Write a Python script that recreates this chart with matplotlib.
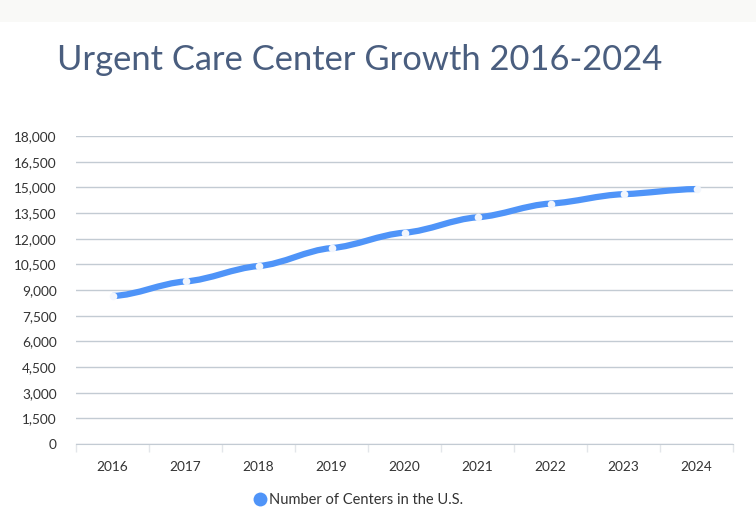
import matplotlib
matplotlib.use("Agg")
from matplotlib import pyplot as plt
from matplotlib.path import Path
from matplotlib.patches import PathPatch, Rectangle
from matplotlib.lines import Line2D

years = ["2016", "2017", "2018", "2019", "2020", "2021", "2022", "2023", "2024"]
centers = [8650, 9500, 10400, 11450, 12350, 13250, 14050, 14600, 14900]
y_ticks = [0, 1500, 3000, 4500, 6000, 7500, 9000, 10500, 12000, 13500, 15000, 16500, 18000]

blue = "#4f94f8"
text_col = "#333333"
grid_col = "#c3cbd3"

plt.rcParams['font.family'] = ['Lato', 'DejaVu Sans']

fig = plt.figure(figsize=(7.56, 5.14), dpi=100)
fig.patches.append(Rectangle((0, 1 - 22 / 514), 1, 22 / 514, transform=fig.transFigure,
                             facecolor="#f9f9f7", edgecolor="none", zorder=0))
fig.text(57 / 756, 1 - 60 / 514, "Urgent Care Center Growth 2016-2024", fontsize=24.8,
         color="#4a5e7f", va="center", ha="left")

ax = fig.add_axes([76 / 756, 1 - 444 / 514, 657 / 756, 308 / 514])
ax.set_xlim(-0.5, len(years) - 0.5)
ax.set_ylim(0, 18000)

# smooth curve through the points (cubic bezier segments, low tension)
xs = list(range(len(years)))
verts = [(xs[0], centers[0])]
codes = [Path.MOVETO]
t = 0.06
for i in range(len(xs) - 1):
    p0 = (xs[max(i - 1, 0)], centers[max(i - 1, 0)])
    p1 = (xs[i], centers[i])
    p2 = (xs[i + 1], centers[i + 1])
    p3 = (xs[min(i + 2, len(xs) - 1)], centers[min(i + 2, len(xs) - 1)])
    c1 = (p1[0] + 0.35, p1[1] + (p2[1] - p0[1]) * t)
    c2 = (p2[0] - 0.35, p2[1] - (p3[1] - p1[1]) * t)
    verts += [c1, c2, p2]
    codes += [Path.CURVE4] * 3
ax.add_patch(PathPatch(Path(verts, codes), facecolor="none", edgecolor=blue,
                       linewidth=4.5, capstyle="butt", zorder=3))
ax.plot(xs, centers, linestyle="none", marker="o", markersize=5.5,
        markerfacecolor="#f2f6fd", markeredgecolor="none", zorder=4)

ax.set_yticks(y_ticks)
ax.set_yticklabels([f"{v:,}" for v in y_ticks])
ax.set_xticks(xs)
ax.set_xticklabels(years)
ax.set_xticks([i - 0.5 for i in range(len(years) + 1)], minor=True)
ax.tick_params(axis="y", length=0, pad=14, labelsize=9.8, labelcolor=text_col)
ax.tick_params(axis="x", which="major", length=0, pad=12, labelsize=9.8, labelcolor=text_col)
ax.tick_params(axis="x", which="minor", length=6, color="#e3e6ea", width=1)
ax.grid(axis="y", color=grid_col, linewidth=1)
ax.set_axisbelow(True)
for s in ["top", "right", "left"]:
    ax.spines[s].set_visible(False)
ax.spines["bottom"].set_color(grid_col)

handle = Line2D([], [], linestyle="none", marker="o", markersize=10,
                markerfacecolor=blue, markeredgecolor="none")
fig.legend([handle], ["Number of Centers in the U.S."], loc="center",
           bbox_to_anchor=(358 / 756, 1 - 500 / 514), frameon=False, fontsize=10.5,
           handletextpad=0.1, handlelength=1.0, labelcolor=text_col)

fig.savefig("out.png", dpi=100)
